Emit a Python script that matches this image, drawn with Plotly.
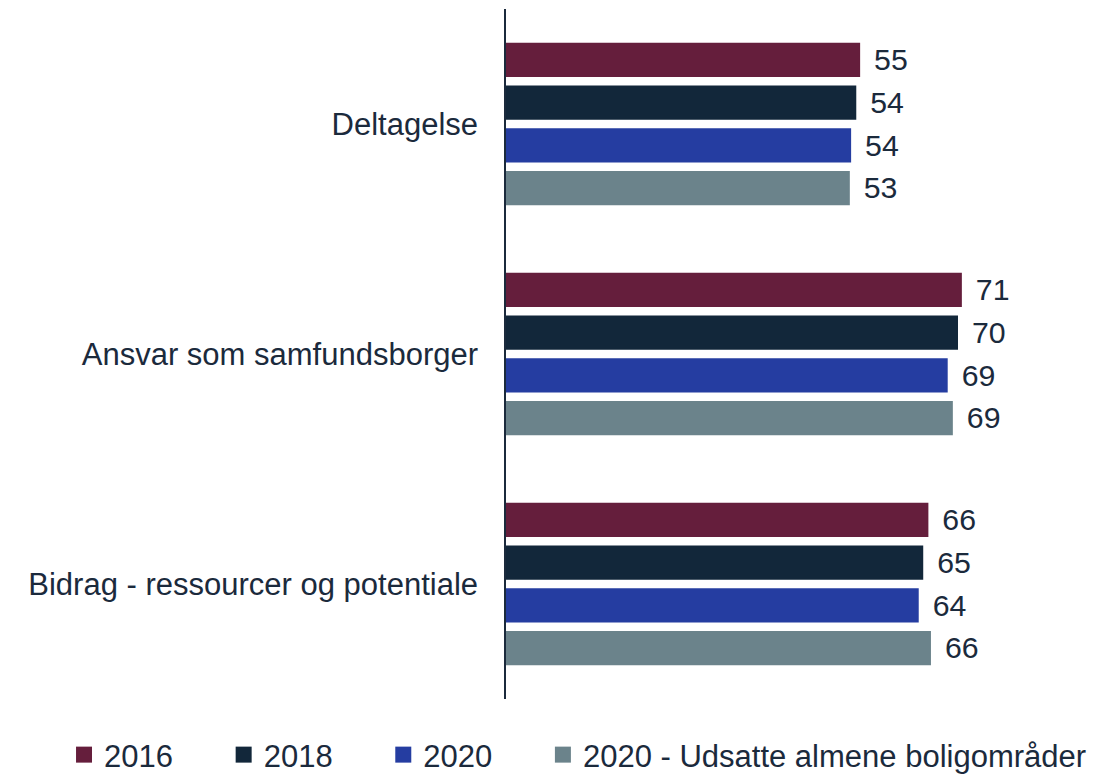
import plotly.graph_objects as go

categories = ["Deltagelse", "Ansvar som samfundsborger", "Bidrag - ressourcer og potentiale"]
series_names = ["2016", "2018", "2020", "2020 - Udsatte almene boligområder"]
values_2016 = [55.0, 70.8, 65.6]
values_2018 = [54.4, 70.2, 64.8]
values_2020 = [53.6, 68.6, 64.1]
values_udsatte = [53.4, 69.4, 66.0]
colors = ["#651E3C", "#12273A", "#253DA1", "#6B838B"]

series_values = [values_2016, values_2018, values_2020, values_udsatte]
text_color = "#1B2A3C"
font_family = "Liberation Sans, Arial, sans-serif"
FS = 31

fig = go.Figure()
for name, vals, col in zip(series_names, series_values, colors):
    fig.add_trace(go.Bar(
        y=categories, x=vals, orientation="h", name=name,
        marker=dict(color=col, line=dict(width=0)),
        texttemplate="\u00a0\u200a%{x:.0f}", textposition="outside",
        textfont=dict(size=FS, color=text_color, family=font_family),
        cliponaxis=False, showlegend=False,
    ))
# legend entries (square markers); trailing spaces only pad item spacing
pad = "\u00a0" * 5 + "\u200a"
for i, (name, col) in enumerate(zip(series_names, colors)):
    label = name + (pad if i < len(series_names) - 1 else "")
    fig.add_trace(go.Scatter(
        x=[None], y=[None], mode="markers", name=label,
        marker=dict(symbol="square", size=16, color=col),
        showlegend=True,
    ))

fig.update_layout(
    width=1094, height=772,
    margin=dict(l=498, r=12, t=1, b=81, autoexpand=False),
    barmode="group", bargap=0.257, bargroupgap=0.2,
    plot_bgcolor="white", paper_bgcolor="white",
    font=dict(family=font_family, size=FS, color=text_color),
    showlegend=True,
    legend=dict(
        orientation="h", x=-0.7568, xanchor="left", y=-0.042, yanchor="top",
        xref="paper",
        font=dict(size=FS, color=text_color, family=font_family),
        traceorder="normal", itemclick=False, itemdoubleclick=False,
    ),
)
fig.update_xaxes(range=[0, 90.7], visible=False, showgrid=False, zeroline=False)
fig.update_yaxes(
    autorange="reversed", showline=True, linecolor="#1B2A3C", linewidth=1.5,
    showgrid=False, ticks="", ticklabelstandoff=20,
    tickfont=dict(size=FS, color=text_color, family=font_family),
)

fig.write_html("out.html")
